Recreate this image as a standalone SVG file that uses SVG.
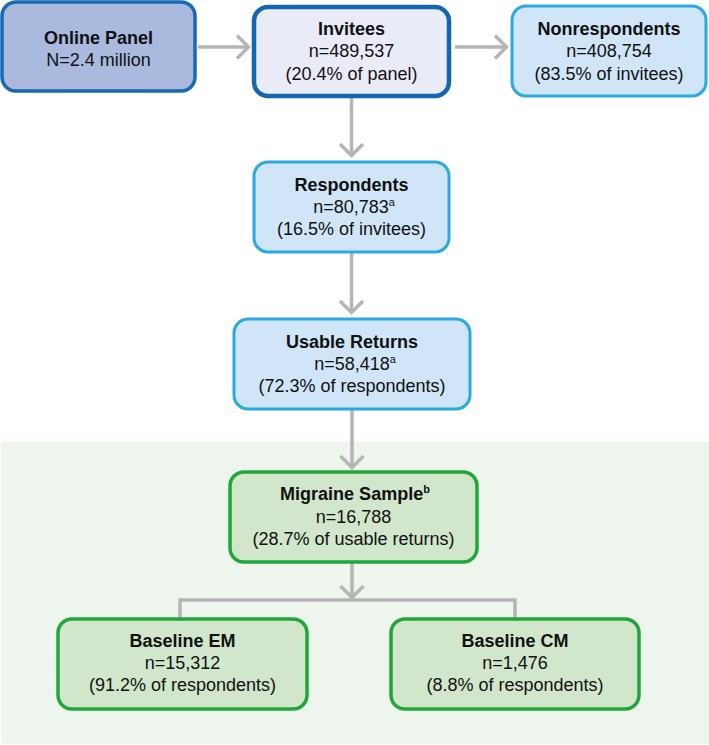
<svg xmlns="http://www.w3.org/2000/svg" width="709" height="745" viewBox="0 0 709 745">
<defs>
<style>
text{font-family:"Liberation Sans",Arial,sans-serif;font-size:18px;fill:#111;text-anchor:middle}
.b{font-weight:bold}
.sup{font-size:11px}
.box{stroke-width:3}
.panel{fill:#aab9de;stroke:#1868b2;stroke-width:3.5}
.inv{fill:#e9ebf7;stroke:#1466b0;stroke-width:4.5}
.blue{fill:#d0e5f7;stroke:#2ba9e1;stroke-width:3}
.green{fill:#d1e6cb;stroke:#20a63a;stroke-width:3.5}
.conn{fill:none;stroke:#b5b5b5;stroke-width:3.5}
</style>
<marker id="arr" markerUnits="userSpaceOnUse" viewBox="0 0 16 26" markerWidth="16" markerHeight="26" refX="14" refY="13" orient="auto">
<path d="M2,1.5 L13.5,13 L2,24.5" fill="none" stroke="#b5b5b5" stroke-width="3.5"/>
</marker>
</defs>
<rect x="1" y="442" width="708" height="302" fill="#eef5ec"/>
<g id="connectors">
<line class="conn" x1="198" y1="47" x2="249" y2="47" marker-end="url(#arr)"/>
<line class="conn" x1="455" y1="47" x2="507" y2="47" marker-end="url(#arr)"/>
<line class="conn" x1="351.5" y1="98" x2="351.5" y2="156" marker-end="url(#arr)"/>
<line class="conn" x1="351.5" y1="253" x2="351.5" y2="313" marker-end="url(#arr)"/>
<line class="conn" x1="352" y1="410" x2="352" y2="468" marker-end="url(#arr)"/>
<line class="conn" x1="352" y1="563" x2="352" y2="598" marker-end="url(#arr)"/>
<polyline class="conn" points="180,619 180,600 515,600 515,619"/>
</g>
<g id="online-panel">
<rect class="panel" x="2" y="2" width="193" height="89" rx="14"/>
<text x="98.5" y="43.5" class="b">Online Panel</text>
<text x="98.5" y="65.5">N=2.4 million</text>
</g>
<g id="invitees">
<rect class="inv" x="254" y="7" width="195" height="89" rx="14"/>
<text x="351.5" y="34.5" class="b">Invitees</text>
<text x="351.5" y="57">n=489,537</text>
<text x="351.5" y="79.5">(20.4% of panel)</text>
</g>
<g id="nonrespondents">
<rect class="blue" x="512" y="6" width="194" height="90" rx="14"/>
<text x="609" y="34.5" class="b">Nonrespondents</text>
<text x="609" y="57">n=408,754</text>
<text x="609" y="79.5">(83.5% of invitees)</text>
</g>
<g id="respondents">
<rect class="blue" x="254" y="162" width="195" height="90" rx="14"/>
<text x="351.5" y="191" class="b">Respondents</text>
<text x="354" y="213">n=80,783<tspan class="sup" dy="-7">a</tspan></text>
<text x="351.5" y="235">(16.5% of invitees)</text>
</g>
<g id="usable-returns">
<rect class="blue" x="234" y="319" width="236" height="90" rx="14"/>
<text x="352" y="348" class="b">Usable Returns</text>
<text x="355" y="370">n=58,418<tspan class="sup" dy="-7">a</tspan></text>
<text x="352" y="392">(72.3% of respondents)</text>
</g>
<g id="migraine-sample">
<rect class="green" x="230" y="472" width="247" height="90" rx="14"/>
<text x="355" y="500" class="b">Migraine Sample<tspan class="sup" dy="-7">b</tspan></text>
<text x="353.5" y="523">n=16,788</text>
<text x="353.5" y="545">(28.7% of usable returns)</text>
</g>
<g id="baseline-em">
<rect class="green" x="58" y="619" width="249" height="90" rx="14"/>
<text x="182.5" y="647" class="b">Baseline EM</text>
<text x="182.5" y="669">n=15,312</text>
<text x="182.5" y="691">(91.2% of respondents)</text>
</g>
<g id="baseline-cm">
<rect class="green" x="391" y="619" width="248" height="90" rx="14"/>
<text x="515" y="647" class="b">Baseline CM</text>
<text x="515" y="669">n=1,476</text>
<text x="515" y="691">(8.8% of respondents)</text>
</g>
</svg>
